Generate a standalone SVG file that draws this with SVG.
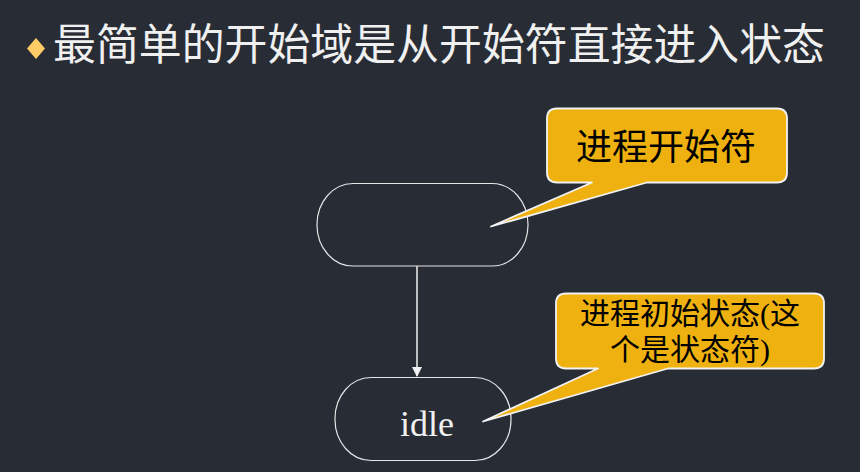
<svg xmlns="http://www.w3.org/2000/svg" width="860" height="472" viewBox="0 0 860 472">
<style>
.bg{fill:#282c35}
.node{fill:none;stroke:#e6e6e6;stroke-width:1.2}
.callout{fill:#eeb10f;stroke:#f2f2f2;stroke-width:1.8;stroke-linejoin:round}
.cjk{font-family:"Liberation Serif","Noto Sans CJK SC",serif}
.title{fill:#f0f0f0;font-size:43px}
.ctext{fill:#000;text-anchor:middle}
.ntext{fill:#f0f0f0;font-size:36px;text-anchor:middle;font-family:"Liberation Serif",serif}
.edge{stroke:#f0f0f0;stroke-width:1.5;fill:none}
</style>
<defs>
<marker id="arr" markerWidth="10" markerHeight="10" refX="9" refY="5" orient="auto" markerUnits="userSpaceOnUse">
<path d="M0,0 L10,5 L0,10 z" fill="#f0f0f0"/>
</marker>
</defs>
<rect class="bg" x="0" y="0" width="860" height="472"/>
<g id="title">
<polygon points="36,38 45,48.5 36,59 27,48.5" fill="#ffcc66"/>
<text class="cjk title" x="53" y="60" textLength="772" lengthAdjust="spacingAndGlyphs">最简单的开始域是从开始符直接进入状态</text>
</g>
<g id="connectors">
<line class="edge" x1="417" y1="266" x2="417" y2="376" marker-end="url(#arr)"/>
</g>
<g id="start">
<rect class="node" x="317" y="183.5" width="211" height="82.5" rx="36" ry="41"/>
</g>
<g id="idle">
<rect class="node" x="335" y="377.5" width="176" height="83" rx="36" ry="41"/>
<text class="ntext" x="427" y="436">idle</text>
</g>
<g id="callout1">
<path class="callout" d="M557,108.5 H777 Q787,108.5 787,118.5 V172.5 Q787,182.5 777,182.5 H647 L491,226.5 L592,182.5 H557 Q547,182.5 547,172.5 V118.5 Q547,108.5 557,108.5 Z"/>
<text class="cjk ctext" x="666" y="160" font-size="36">进程开始符</text>
</g>
<g id="callout2">
<path class="callout" d="M566,293.5 H814 Q824,293.5 824,303.5 V358.5 Q824,368.5 814,368.5 H668 L483,421.5 L598,368.5 H566 Q556,368.5 556,358.5 V303.5 Q556,293.5 566,293.5 Z"/>
<text class="cjk ctext" x="690" y="323.5" font-size="30">进程初始状态(这</text>
<text class="cjk ctext" x="690" y="360" font-size="30">个是状态符)</text>
</g>
</svg>
